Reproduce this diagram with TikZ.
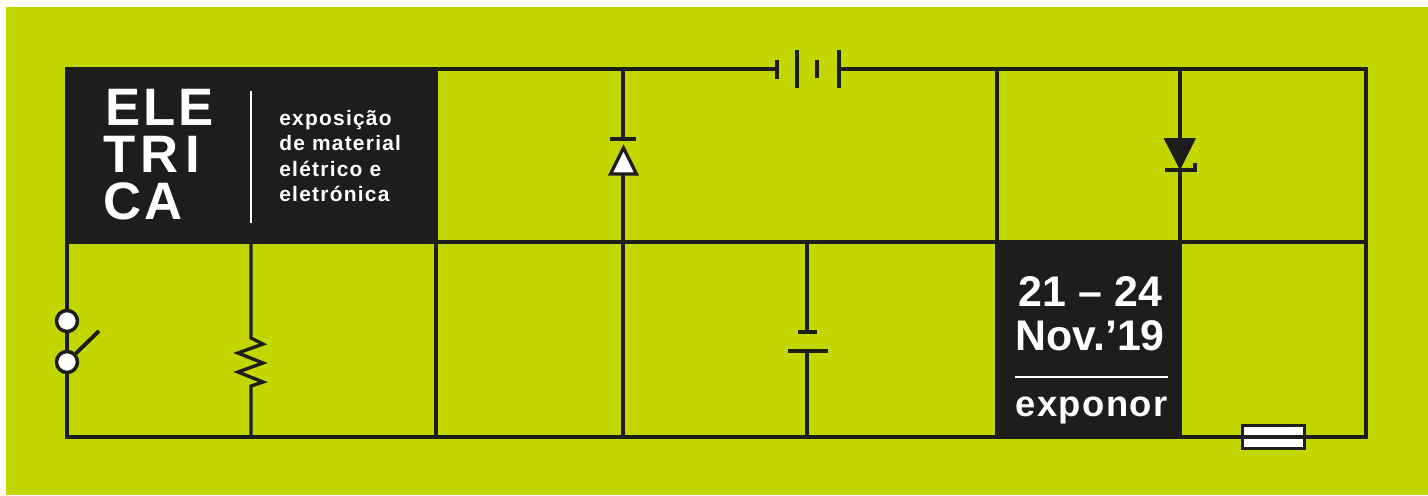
\documentclass[tikz,border=0pt]{standalone}
\usepackage{fontspec}
\setmainfont{Liberation Sans}
\newfontfamily\logofont[LetterSpace=5]{Liberation Sans Bold}
\newfontfamily\infofont[LetterSpace=4]{Liberation Sans Bold}
\newfontfamily\subfont[LetterSpace=6]{Liberation Sans Bold}
\definecolor{lime}{HTML}{C4D600}
\definecolor{ink}{HTML}{1D1D1B}
\tikzset{
  wire/.style={draw=ink,line width=1.9pt,line cap=butt,line join=miter},
  plate/.style={draw=ink,line width=2.2pt},
  darkbox/.style={fill=ink,draw=none},
  rulewhite/.style={draw=white,line width=1.5pt},
  terminal/.style={circle,draw=ink,fill=white,line width=2pt,minimum size=0.42cm,inner sep=0pt},
  logotext/.style={text=white,anchor=north west,align=left,inner sep=0pt,font=\logofont\fontsize{30}{26.8}\selectfont},
  subtext/.style={text=white,anchor=north west,align=left,inner sep=0pt,font=\subfont\fontsize{11.9}{14.5}\selectfont},
  datetext/.style={text=white,anchor=north west,align=left,inner sep=0pt,font=\bfseries\fontsize{24.4}{25.4}\selectfont},
  placetext/.style={text=white,anchor=north west,inner sep=0pt,font=\infofont\fontsize{20.7}{22}\selectfont},
}
\begin{document}
\begin{tikzpicture}[x=0.02cm,y=-0.02cm]
\useasboundingbox (0,0) rectangle (1428,495);
\fill[white] (0,0) rectangle (1428,495);
\fill[lime] (6,7) rectangle (1428,495);
% grid points
\coordinate (tl) at (67,69);
\coordinate (tr) at (1366,69);
\coordinate (bl) at (67,437);
\coordinate (br) at (1366,437);
\coordinate (ml) at (67,242);
\coordinate (mr) at (1366,242);
\coordinate (t436) at (436,69);
\coordinate (m436) at (436,242);
\coordinate (b436) at (436,437);
\coordinate (m251) at (251,242);
\coordinate (b251) at (251,437);
\coordinate (t623) at (623,69);
\coordinate (m623) at (623,242);
\coordinate (b623) at (623,437);
\coordinate (m807) at (807,242);
\coordinate (b807) at (807,437);
\coordinate (t997) at (997,69);
\coordinate (m997) at (997,242);
\coordinate (t1180) at (1180,69);
\coordinate (m1180) at (1180,242);
\coordinate (batA) at (777,69);
\coordinate (batB) at (839,69);
% dark boxes
\fill[darkbox] (65.3,67.3) rectangle (437.7,243.7);
\fill[darkbox] (995,241) rectangle (1182,438.7);
% frame and grid
\draw[wire] (tl) -- (batA);
\draw[wire] (batB) -- (tr) -- (br) -- (bl) -- (tl);
\draw[wire] (ml) -- (mr);
\draw[wire] (t436) -- (b436);
\draw[wire] (m623) -- (b623);
\draw[wire] (t997) -- (m997);
% battery
\draw[plate] (777,60) -- (777,79);
\draw[plate] (797,50) -- (797,88);
\draw[plate] (817,60) -- (817,78);
\draw[plate] (839,50) -- (839,88);
% left diode
\coordinate (da) at (623,139);
\coordinate (db) at (623,174);
\draw[wire] (t623) -- (da);
\draw[wire] (db) -- (m623);
\draw[plate] (610,139) -- (636,139);
\draw[wire,fill=white] (623.5,148) -- (636.5,174) -- (610.5,174) -- cycle;
% right diode
\coordinate (za) at (1180,139);
\coordinate (zb) at (1180,170);
\draw[wire] (t1180) -- (za);
\draw[wire] (zb) -- (m1180);
\fill[ink] (1163.5,138) -- (1196,138) -- (1180,170) -- cycle;
\draw[plate] (1165,170) -- (1195,170) -- (1195,163);
% capacitor
\coordinate (ca) at (807,332);
\coordinate (cb) at (807,351);
\draw[wire] (m807) -- (ca);
\draw[wire] (cb) -- (b807);
\draw[plate] (798,332) -- (817,332);
\draw[plate] (788,351) -- (828,351);
% resistor
\coordinate (ra) at (251,338);
\coordinate (rb) at (251,386);
\draw[wire] (m251) -- (ra) -- (263,344) -- (238,353) -- (263,363) -- (238,372) -- (263,382) -- (rb) -- (b251);
% switch
\node[terminal] (s1) at (67,321) {};
\node[terminal] (s2) at (67,362) {};
\coordinate (lever) at (99,331);
\draw[plate] (s2) -- (lever);
% fuse
\node[draw=ink,fill=white,line width=2pt,minimum width=1.24cm,minimum height=0.46cm,inner sep=0pt] (fuse) at (1273.5,437) {};
\draw[draw=ink,line width=2pt] (fuse.west) -- (fuse.east);
% texts
\draw[rulewhite] (251,91) -- (251,223);
\node[logotext] (logo) at (103,88.5) {\hspace*{1.5pt}ELE\\T\kern3pt R\kern4pt I\\CA};
\node[subtext] (sub) at (279,110) {exposição\\de material\\elétrico e\\eletrónica};
\node[datetext] (date) at (1015,276) {\hspace*{2pt}21 – 24\\Nov.’19};
\draw[rulewhite] (1015,377) -- (1168,377);
\node[placetext] (place) at (1015,397) {exponor};
\end{tikzpicture}
\end{document}
